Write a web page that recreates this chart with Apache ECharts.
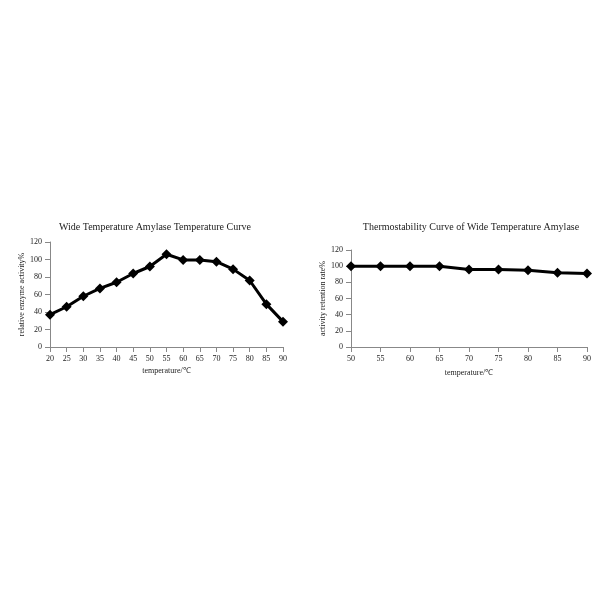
<!DOCTYPE html><html><head><meta charset="utf-8"><script src="https://cdn.jsdelivr.net/npm/echarts@6/dist/echarts.min.js"></script></head><body style="margin:0;background:#fff"><div id="c" style="width:600px;height:600px"></div><script>
const temps1=['20','25','30','35','40','45','50','55','60','65','70','75','80','85','90'];
const activity1=[37,46,58,67,74,84,92,106,99.5,99.5,97.5,89,76,49,29];
const temps2=['50','55','60','65','70','75','80','85','90'];
const retention2=[100,100,100,100,96,96,95,92,91];
const F='Liberation Serif';
function xa(i,d){return {type:'category',gridIndex:i,data:d,boundaryGap:false,name:'temperature/℃',nameLocation:'middle',nameGap:i?22:20,nameTextStyle:{fontFamily:F,fontSize:8,color:'#222'},axisLine:{lineStyle:{color:'#888'}},axisTick:{show:true,alignWithLabel:true,lineStyle:{color:'#888'}},axisLabel:{fontFamily:F,fontSize:8,color:'#222'}};}
function ya(i,n){return {type:'value',gridIndex:i,min:0,max:120,interval:20,name:n,nameLocation:'middle',nameGap:22,nameTextStyle:{fontFamily:F,fontSize:8,color:'#222'},splitLine:{show:false},axisLine:{show:true,lineStyle:{color:'#888'}},axisTick:{show:true,lineStyle:{color:'#888'}},axisLabel:{fontFamily:F,fontSize:8,color:'#222'}};}
function s(i,d){return {type:'line',xAxisIndex:i,yAxisIndex:i,data:d,symbol:'diamond',symbolSize:10,lineStyle:{color:'#000',width:3},itemStyle:{color:'#000'},animation:false};}
echarts.init(document.getElementById('c')).setOption({animation:false,
title:[{text:'Wide Temperature Amylase Temperature Curve',left:150,top:217,textAlign:'center',textStyle:{fontFamily:F,fontSize:10,fontWeight:'normal',color:'#222'}},
{text:'Thermostability Curve of Wide Temperature Amylase',left:466,top:217,textAlign:'center',textStyle:{fontFamily:F,fontSize:10,fontWeight:'normal',color:'#222'}}],
grid:[{left:50,right:317,top:242,bottom:253},{left:351,right:13,top:250,bottom:253}],
xAxis:[xa(0,temps1),xa(1,temps2)],yAxis:[ya(0,'relative enzyme activity%'),ya(1,'activity retention rate%')],
series:[s(0,activity1),s(1,retention2)]});
</script></body></html>
